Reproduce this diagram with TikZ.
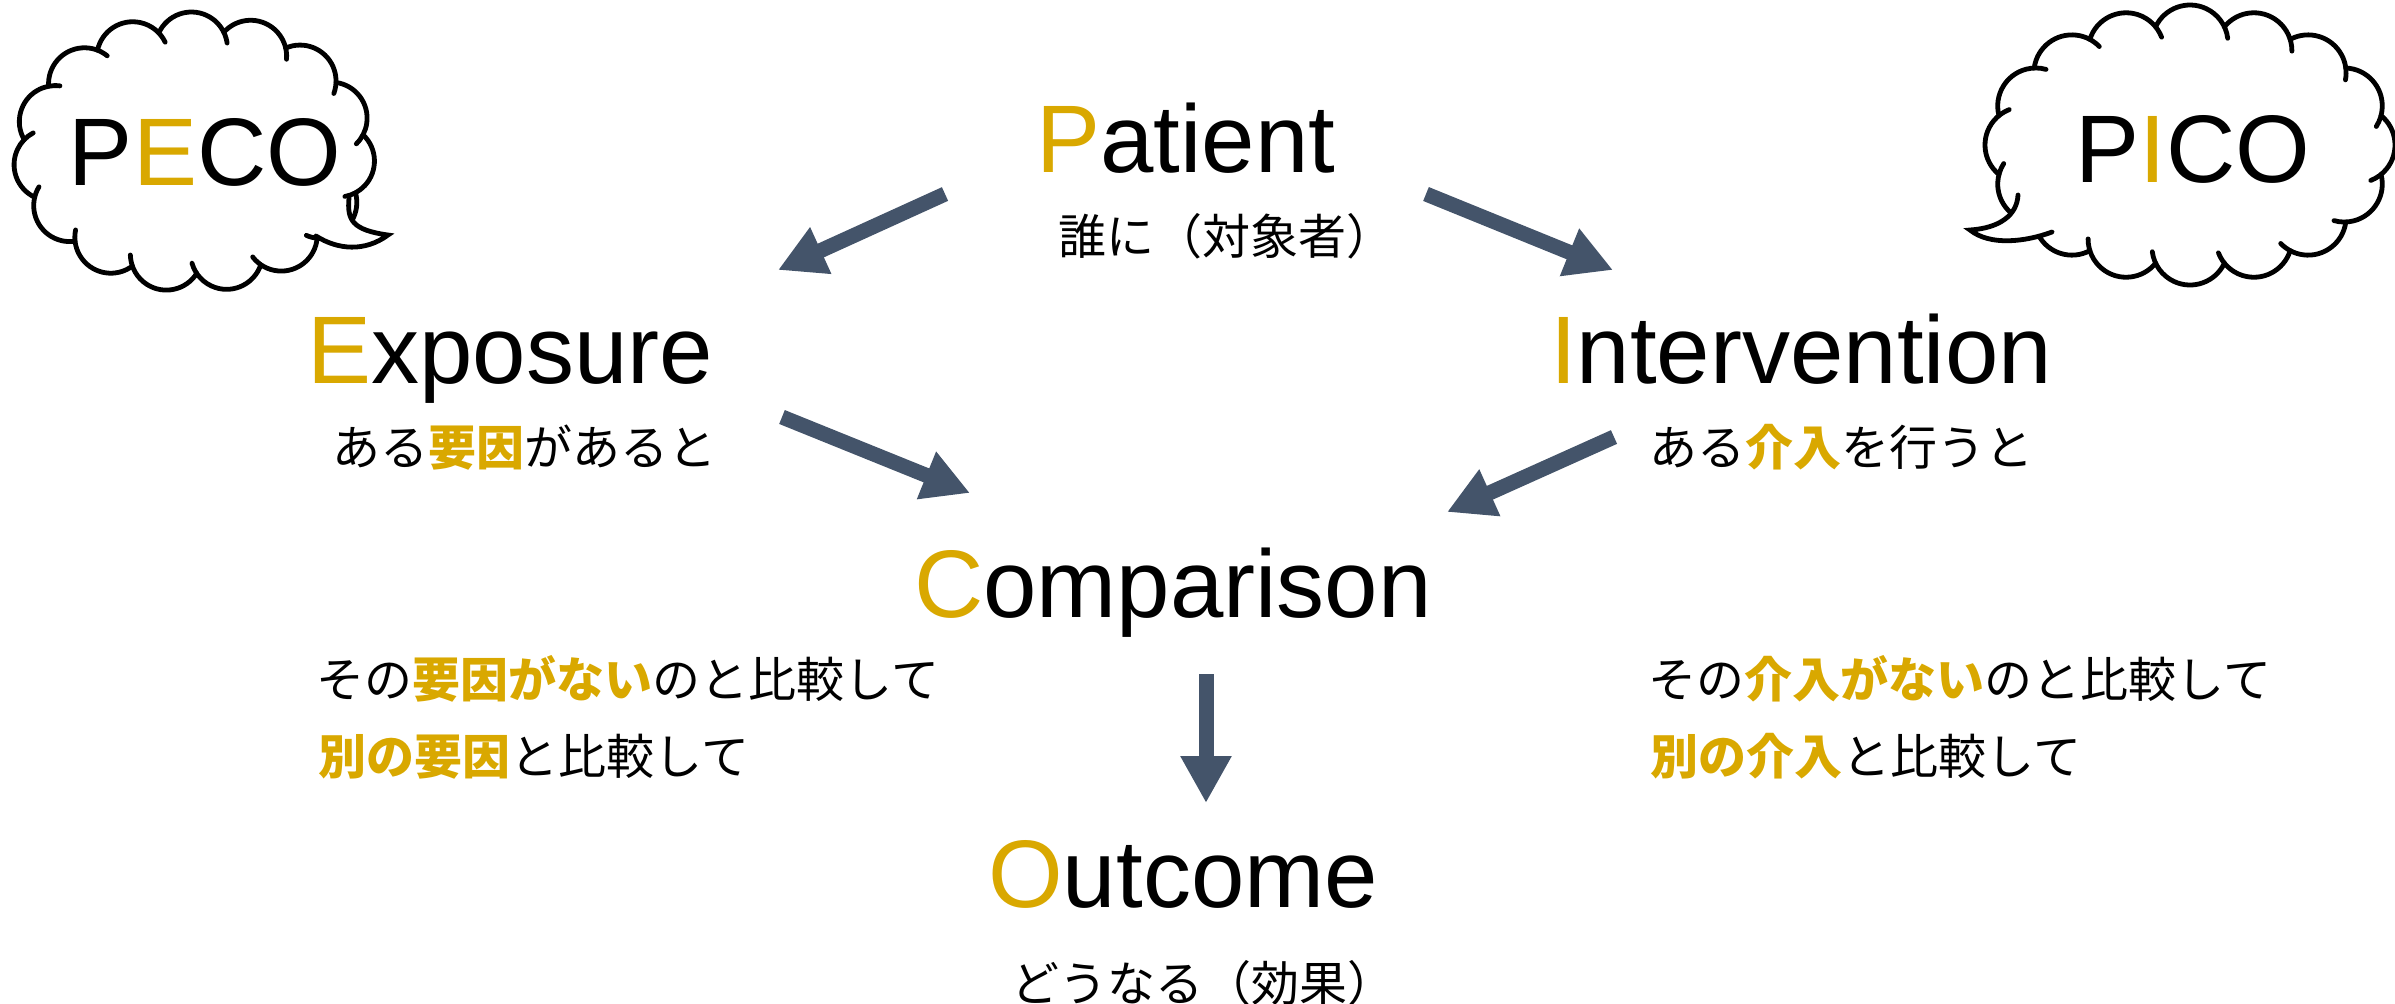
\documentclass[tikz,border=0pt]{standalone}
\usepackage{fontspec}
\setmainfont{Liberation Sans}
\newfontfamily\jp{Noto Sans CJK JP}
\usetikzlibrary{arrows.meta}
\definecolor{gold}{HTML}{D9A800}
\definecolor{arrowc}{HTML}{44546A}
\newcommand\hl[1]{{\bfseries\color{gold}#1}}
\newcommand\cloudpuffs[8]{%
 \foreach \i in {1,...,#6}{%
  \pgfmathsetmacro\tha{#7+360*\i/#6}%
  \pgfmathsetmacro\thp{#7+360*(\i-1)/#6}%
  \pgfmathsetmacro\thn{#7+360*(\i+1)/#6}%
  \pgfmathsetmacro\xa{#1+#3*cos(\tha)}%
  \pgfmathsetmacro\ya{#2+#4*sin(\tha)}%
  \pgfmathsetmacro\xp{#1+#3*cos(\thp)}%
  \pgfmathsetmacro\yp{#2+#4*sin(\thp)}%
  \pgfmathsetmacro\xn{#1+#3*cos(\thn)}%
  \pgfmathsetmacro\yn{#2+#4*sin(\thn)}%
  \pgfmathsetmacro\angp{atan2(\yp-\ya,\xp-\xa)}%
  \pgfmathsetmacro\angn{atan2(\yn-\ya,\xn-\xa)}%
  \pgfmathsetmacro\gp{acos(min(0.99,veclen(\xp-\xa,\yp-\ya)/(2*#5)))}%
  \pgfmathsetmacro\gn{acos(min(0.99,veclen(\xn-\xa,\yn-\ya)/(2*#5)))}%
  \pgfmathsetmacro\st{\angp+\gp}%
  \pgfmathsetmacro\en{\angn-\gn+#8}%
  \pgfmathsetmacro\en{\en<\st ? \en+360 : \en}%
  \pgfmathsetmacro\xs{\xa+#5*cos(\st)}%
  \pgfmathsetmacro\ys{\ya+#5*sin(\st)}%
  \draw[cloudline] (\xs,\ys) arc[start angle=\st, end angle=\en, radius=#5];
 }}
\tikzset{
 en/.style={font=\fontsize{48}{58}\selectfont, inner sep=0pt, anchor=base},
 ja/.style={font=\jp\fontsize{24}{29}\selectfont, inner sep=0pt, anchor=base west},
 blockarrow/.style={draw=arrowc, line width=7.5pt, -{Triangle[length=23.5pt,width=24pt]}},
 cloudline/.style={line width=2.4pt, black, line cap=round},
}
\begin{document}
\begin{tikzpicture}[x=0.5pt,y=-0.5pt]
\useasboundingbox (0,0) rectangle (2395,1003);
% clouds
\cloudpuffs{194}{152}{145}{104}{36}{15}{5}{18}
\fill[white] (340,200) -- (349,198) .. controls (347,220) and (352,230) .. (388,235) .. controls (365,252) and (338,250) .. (316,236) -- (316,220) -- cycle;
\draw[cloudline] (349,198) .. controls (347,220) and (352,230) .. (388,235) .. controls (365,252) and (338,250) .. (316,236);
\cloudpuffs{2190}{145}{167}{102}{38}{16}{0}{18}
\fill[white] (2028,195) -- (2018,195) .. controls (2017,215) and (2000,228) .. (1970,230) .. controls (1990,246) and (2025,242) .. (2052,232) -- (2052,215) -- cycle;
\draw[cloudline] (2018,195) .. controls (2017,215) and (2000,228) .. (1970,230) .. controls (1990,246) and (2025,242) .. (2052,232);
\node[en] (peco) at (205,185) {P\textcolor{gold}{E}CO};
\node[en] (pico) at (2193,182) {P\textcolor{gold}{I}CO};
% main labels
\node[en] (pat) at (1186,172) {\textcolor{gold}{P}atient};
\node[en] (exp) at (510,383) {\textcolor{gold}{E}xposure};
\node[en] (int) at (1801,383) {\textcolor{gold}{I}ntervention};
\node[en] (cmp) at (1173,617) {\textcolor{gold}{C}omparison};
\node[en] (out) at (1183,907) {\textcolor{gold}{O}utcome};
\node[ja] (patj) at (1058,254) {誰に（対象者）};
\node[ja] (expj) at (332,465) {ある\hl{要因}があると};
\node[ja] (intj) at (1649,465) {ある\hl{介入}を行うと};
\node[ja] (cmpl1) at (316,697) {その\hl{要因がない}のと比較して};
\node[ja] (cmpl2) at (318,774) {\hl{別の要因}と比較して};
\node[ja] (cmpr1) at (1648,697) {その\hl{介入がない}のと比較して};
\node[ja] (cmpr2) at (1650,774) {\hl{別の介入}と比較して};
\node[ja] (outj) at (1011,1001) {どうなる（効果）};
% arrows
\coordinate (a1s) at (945,194); \coordinate (a1e) at (778,270);
\coordinate (a2s) at (1426,194); \coordinate (a2e) at (1613,270);
\coordinate (a3s) at (782,417); \coordinate (a3e) at (970,493);
\coordinate (a4s) at (1614,437); \coordinate (a4e) at (1447,512);
\coordinate (a5s) at (1206,674); \coordinate (a5e) at (1206,803);
\draw[blockarrow] (a1s) -- (a1e);
\draw[blockarrow] (a2s) -- (a2e);
\draw[blockarrow] (a3s) -- (a3e);
\draw[blockarrow] (a4s) -- (a4e);
\draw[blockarrow] (a5s) -- (a5e);
\end{tikzpicture}
\end{document}
